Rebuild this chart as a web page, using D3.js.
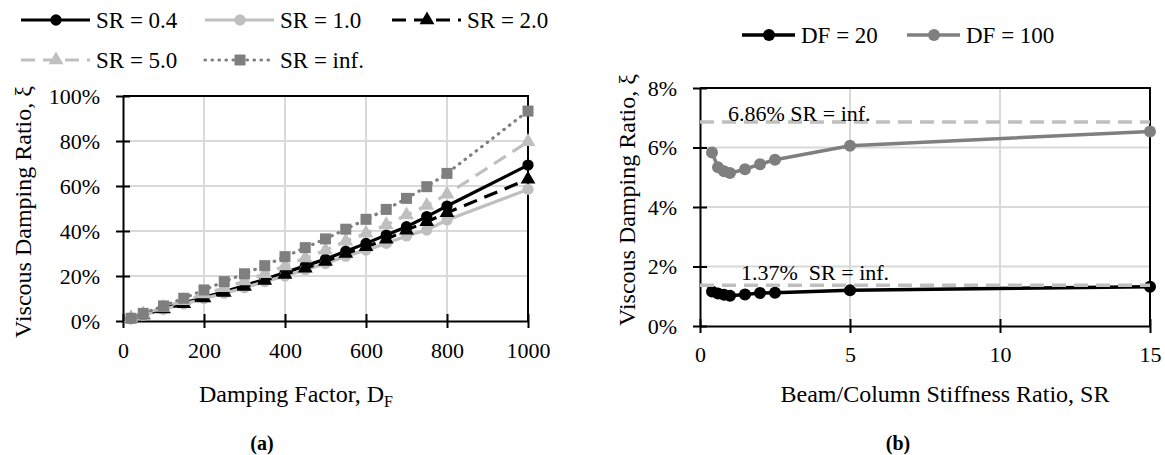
<!DOCTYPE html>
<html><head><meta charset="utf-8">
<script src="https://cdn.jsdelivr.net/npm/d3@7"></script>
<style>
body{margin:0;background:#fff}
svg text{font-family:"Liberation Serif","Times New Roman",serif;fill:#000}
</style>
</head><body>
<svg id="c" width="1165" height="455"></svg>
<script>
// ---------- data (a) ----------
const dampingFactors = [20,50,100,150,200,250,300,350,400,450,500,550,600,650,700,750,800,1000];
const sr04  = [1.1,2.8,5.5,8.0,10.5,13.0,15.8,18.5,21.5,24.5,27.5,31.0,34.5,38.2,41.9,46.4,51.1,69.3];
const sr10  = [1.0,2.6,5.2,7.5,10.0,12.3,14.8,17.5,20.0,22.8,25.5,28.8,31.5,34.5,37.8,40.4,44.9,58.5];
const sr20  = [1.1,2.7,5.3,7.7,10.2,12.7,15.3,18.0,20.7,23.5,26.5,30.0,33.0,36.3,40.4,44.1,48.1,63.0];
const sr50  = [1.2,3.0,6.0,9.0,12.0,14.8,17.8,21.0,24.5,28.0,31.5,35.5,39.0,42.7,47.1,51.3,56.3,79.7];
const srInf = [1.2,3.4,6.7,10.1,13.8,17.5,21.0,24.6,28.6,32.6,36.5,40.8,45.2,49.6,54.5,59.7,65.6,93.3];
const seriesNamesA = ["SR = 0.4","SR = 1.0","SR = 2.0","SR = 5.0","SR = inf."];
const xTicksA = [0,200,400,600,800,1000];
const yTicksA = [0,20,40,60,80,100];

// ---------- data (b) ----------
const stiffnessRatios = [0.4,0.6,0.8,1.0,1.5,2.0,2.5,5,15];
const df20  = [1.16,1.09,1.05,1.02,1.06,1.11,1.12,1.20,1.32];
const df100 = [5.83,5.34,5.20,5.14,5.27,5.44,5.59,6.06,6.54];
const seriesNamesB = ["DF = 20","DF = 100"];
const refValues = [6.86,1.37];
const refLabels = ["6.86% SR = inf.","1.37%  SR = inf."];
const xTicksB = [0,5,10,15];
const yTicksB = [0,2,4,6,8];

const svg = d3.select("#c");
const LG = "#bfbfbf", DG = "#7f7f7f", GRID = "#d9d9d9";

const stylesA = [
  {color:"#000", dash:null, sym:d3.symbolCircle, size:100},
  {color:LG, dash:null, sym:d3.symbolCircle, size:100},
  {color:"#000", dash:"14,8", sym:d3.symbolTriangle, size:95},
  {color:LG, dash:"14,8", sym:d3.symbolTriangle, size:95},
  {color:DG, dash:"0.5,6.5", sym:d3.symbolSquare, size:121, cap:"round"}
];
const valsA = [sr04,sr10,sr20,sr50,srInf];

function crossAxis(g, dir){
  g.select(".domain").attr("stroke","#000").attr("stroke-width",2);
  if(dir==="x") g.selectAll(".tick line").attr("y1",-7).attr("y2",7).attr("stroke-width",2);
  else g.selectAll(".tick line").attr("x1",-7).attr("x2",7).attr("stroke-width",2);
}

// ---------- chart (a) ----------
{
  const x = d3.scaleLinear().domain([0,1000]).range([123,528]);
  const y = d3.scaleLinear().domain([0,100]).range([321,96]);
  const g = svg.append("g");
  // grid
  g.append("g").selectAll("line").data(yTicksA.slice(1)).join("line")
    .attr("x1",x(0)).attr("x2",x(1000)).attr("y1",d=>y(d)).attr("y2",d=>y(d))
    .attr("stroke",GRID).attr("stroke-width",2);
  g.append("g").selectAll("line").data(xTicksA.slice(1)).join("line")
    .attr("y1",y(0)).attr("y2",y(100)).attr("x1",d=>x(d)).attr("x2",d=>x(d))
    .attr("stroke",GRID).attr("stroke-width",2);
  // frame top/right
  g.append("path").attr("d",`M${x(0)},${y(100)}H${x(1000)}V${y(0)}`).attr("fill","none").attr("stroke","#000").attr("stroke-width",2);
  // axes
  const ax = g.append("g").attr("transform",`translate(0,${y(0)})`)
    .call(d3.axisBottom(x).tickValues(xTicksA).tickSizeOuter(0).tickFormat(d3.format("d")));
  crossAxis(ax,"x");
  ax.selectAll(".tick text").attr("y",37).attr("dy",null).attr("font-size",22);
  const ay = g.append("g").attr("transform",`translate(${x(0)},0)`)
    .call(d3.axisLeft(y).tickValues(yTicksA).tickSizeOuter(0).tickFormat(d=>d+"%"));
  crossAxis(ay,"y");
  ay.selectAll(".tick text").attr("x",-23).attr("dy","0.33em").attr("font-size",22);
  // series
  valsA.forEach((vals,i)=>{
    const s = stylesA[i];
    const pts = dampingFactors.map((d,j)=>[d,vals[j]]);
    g.append("path").datum(pts)
      .attr("d",d3.line().x(d=>x(d[0])).y(d=>y(d[1])))
      .attr("fill","none").attr("stroke",s.color).attr("stroke-width",3.2)
      .attr("stroke-dasharray",s.dash).attr("stroke-linecap",s.cap||"butt");
    g.append("g").selectAll("path").data(pts).join("path")
      .attr("transform",d=>`translate(${x(d[0])},${y(d[1])})`)
      .attr("d",d3.symbol(s.sym,s.size)).attr("fill",s.color);
  });
  // axis titles
  g.append("text").attr("transform","translate(31,212) rotate(-90)").attr("text-anchor","middle")
    .attr("font-size",24).text("Viscous Damping Ratio, ξ");
  const t = g.append("text").attr("x",296).attr("y",402).attr("text-anchor","middle").attr("font-size",24);
  t.append("tspan").text("Damping Factor, D");
  t.append("tspan").attr("font-size",16).attr("dy",5).text("F");
  g.append("text").attr("x",262).attr("y",450).attr("text-anchor","middle").attr("font-size",20)
    .attr("font-weight","bold").text("(a)");
  // legend
  const legPos = [[21,20],[205,20],[392,20],[21,60],[205,60]];
  seriesNamesA.forEach((name,i)=>{
    const s = stylesA[i]; const [lx,ly] = legPos[i];
    svg.append("line").attr("x1",lx).attr("x2",lx+69).attr("y1",ly).attr("y2",ly)
      .attr("stroke",s.color).attr("stroke-width",3.2).attr("stroke-dasharray",s.dash).attr("stroke-linecap",s.cap||"butt");
    svg.append("path").attr("transform",`translate(${lx+35},${ly})`).attr("d",d3.symbol(s.sym,s.size)).attr("fill",s.color);
    svg.append("text").attr("x",lx+75).attr("y",ly).attr("dy","0.33em").attr("font-size",23).text(name);
  });
}

// ---------- chart (b) ----------
{
  const x = d3.scaleLinear().domain([0,15]).range([700,1150]);
  const y = d3.scaleLinear().domain([0,8]).range([326,88]);
  const g = svg.append("g");
  g.append("g").selectAll("line").data(yTicksB.slice(1)).join("line")
    .attr("x1",x(0)).attr("x2",x(15)).attr("y1",d=>y(d)).attr("y2",d=>y(d))
    .attr("stroke",GRID).attr("stroke-width",2);
  g.append("g").selectAll("line").data(xTicksB.slice(1)).join("line")
    .attr("y1",y(0)).attr("y2",y(8)).attr("x1",d=>x(d)).attr("x2",d=>x(d))
    .attr("stroke",GRID).attr("stroke-width",2);
  g.append("path").attr("d",`M${x(0)},${y(8)}H${x(15)}V${y(0)}`).attr("fill","none").attr("stroke","#000").attr("stroke-width",2);
  const ax = g.append("g").attr("transform",`translate(0,${y(0)})`)
    .call(d3.axisBottom(x).tickValues(xTicksB).tickSizeOuter(0).tickFormat(d3.format("d")));
  crossAxis(ax,"x");
  ax.selectAll(".tick text").attr("y",36).attr("dy",null).attr("font-size",22);
  const ay = g.append("g").attr("transform",`translate(${x(0)},0)`)
    .call(d3.axisLeft(y).tickValues(yTicksB).tickSizeOuter(0).tickFormat(d=>d+"%"));
  crossAxis(ay,"y");
  ay.selectAll(".tick text").attr("x",-23).attr("dy","0.33em").attr("font-size",22);
  const stylesB = [{color:"#000"},{color:DG}];
  [df20,df100].forEach((vals,i)=>{
    const pts = stiffnessRatios.map((d,j)=>[d,vals[j]]);
    g.append("path").datum(pts).attr("d",d3.line().x(d=>x(d[0])).y(d=>y(d[1])))
      .attr("fill","none").attr("stroke",stylesB[i].color).attr("stroke-width",3.5);
    g.append("g").selectAll("circle").data(pts).join("circle")
      .attr("cx",d=>x(d[0])).attr("cy",d=>y(d[1])).attr("r",6).attr("fill",stylesB[i].color);
  });
  // reference lines
  refValues.forEach((v,i)=>{
    g.append("line").attr("x1",x(0)).attr("x2",x(15)).attr("y1",y(v)).attr("y2",y(v))
      .attr("stroke",LG).attr("stroke-width",3.5).attr("stroke-dasharray","14,8");
  });
  g.append("text").attr("x",728).attr("y",y(refValues[0])-1).attr("font-size",22).text(refLabels[0]);
  g.append("text").attr("x",741).attr("y",y(refValues[1])-5).attr("font-size",22)
    .style("white-space","pre").text(refLabels[1]);
  g.append("text").attr("transform","translate(635,200) rotate(-90)").attr("text-anchor","middle")
    .attr("font-size",24).text("Viscous Damping Ratio, ξ");
  g.append("text").attr("x",945).attr("y",402).attr("text-anchor","middle").attr("font-size",24)
    .text("Beam/Column Stiffness Ratio, SR");
  g.append("text").attr("x",898).attr("y",450).attr("text-anchor","middle").attr("font-size",20)
    .attr("font-weight","bold").text("(b)");
  const legPos = [[742,35],[907,35]];
  seriesNamesB.forEach((name,i)=>{
    const [lx,ly] = legPos[i];
    svg.append("line").attr("x1",lx).attr("x2",lx+53).attr("y1",ly).attr("y2",ly)
      .attr("stroke",stylesB[i].color).attr("stroke-width",3.5);
    svg.append("circle").attr("cx",lx+27).attr("cy",ly).attr("r",6).attr("fill",stylesB[i].color);
    svg.append("text").attr("x",lx+59).attr("y",ly).attr("dy","0.33em").attr("font-size",23).text(name);
  });
}
</script>
</body></html>
